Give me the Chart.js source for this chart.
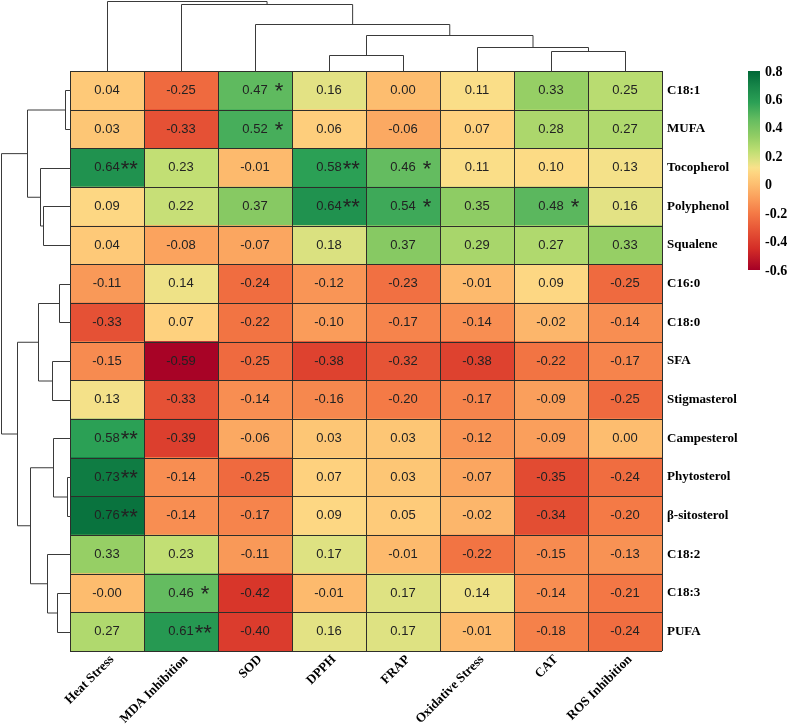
<!DOCTYPE html>
<html>
<head>
<meta charset="utf-8">
<script src="https://cdn.jsdelivr.net/npm/chart.js@4.4.1/dist/chart.umd.min.js"></script>
<style>
  html, body { margin: 0; padding: 0; background: #fff; }
</style>
</head>
<body>
<canvas id="heat" width="787" height="726"></canvas>
<script>
// rows top to bottom, columns left to right (dendrogram order)
var rowLabels = ['C18:1', 'MUFA', 'Tocopherol', 'Polyphenol', 'Squalene', 'C16:0', 'C18:0', 'SFA',
    'Stigmasterol', 'Campesterol', 'Phytosterol', 'β-sitosterol', 'C18:2', 'C18:3', 'PUFA'];
var colLabels = ['Heat Stress', 'MDA Inhibition', 'SOD', 'DPPH', 'FRAP', 'Oxidative Stress', 'CAT', 'ROS Inhibition'];

// correlation coefficients, one array per column
var heatStress      = [0.04, 0.03, 0.64, 0.09, 0.04, -0.11, -0.33, -0.15, 0.13, 0.58, 0.73, 0.76, 0.33, -0.004, 0.27];
var mdaInhibition   = [-0.25, -0.33, 0.23, 0.22, -0.08, 0.14, 0.07, -0.59, -0.33, -0.39, -0.14, -0.14, 0.23, 0.46, 0.61];
var sod             = [0.47, 0.52, -0.01, 0.37, -0.07, -0.24, -0.22, -0.25, -0.14, -0.06, -0.25, -0.17, -0.11, -0.42, -0.40];
var dpph            = [0.16, 0.06, 0.58, 0.64, 0.18, -0.12, -0.10, -0.38, -0.16, 0.03, 0.07, 0.09, 0.17, -0.01, 0.16];
var frap            = [0.00, -0.06, 0.46, 0.54, 0.37, -0.23, -0.17, -0.32, -0.20, 0.03, 0.03, 0.05, -0.01, 0.17, 0.17];
var oxidativeStress = [0.11, 0.07, 0.11, 0.35, 0.29, -0.01, -0.14, -0.38, -0.17, -0.12, -0.07, -0.02, -0.22, 0.14, -0.01];
var cat             = [0.33, 0.28, 0.10, 0.48, 0.27, 0.09, -0.02, -0.22, -0.09, -0.09, -0.35, -0.34, -0.15, -0.14, -0.18];
var rosInhibition   = [0.25, 0.27, 0.13, 0.16, 0.33, -0.25, -0.14, -0.17, -0.25, 0.00, -0.24, -0.20, -0.13, -0.21, -0.24];
var columns = [heatStress, mdaInhibition, sod, dpph, frap, oxidativeStress, cat, rosInhibition];

// significance marks
var sigHeatStress = ['', '', '**', '', '', '', '', '', '', '**', '**', '**', '', '', ''];
var sigMda        = ['', '', '', '', '', '', '', '', '', '', '', '', '', '*', '**'];
var sigSod        = ['*', '*', '', '', '', '', '', '', '', '', '', '', '', '', ''];
var sigDpph       = ['', '', '**', '**', '', '', '', '', '', '', '', '', '', '', ''];
var sigFrap       = ['', '', '*', '*', '', '', '', '', '', '', '', '', '', '', ''];
var sigCat        = ['', '', '', '*', '', '', '', '', '', '', '', '', '', '', ''];
var sigs = [sigHeatStress, sigMda, sigSod, sigDpph, sigFrap, [], sigCat, []];

// clustering (hclust style: negative = leaf, positive = earlier merge)
var rowMerge = [[-11, -12], [-1, -2], [-6, -7], [-14, -15], [-10, 1], [-8, -9], [-13, 4],
    [-4, -5], [-3, 8], [3, 6], [5, 7], [2, 9], [10, 11], [12, 13]];
var rowHeight = [3.3, 5.5, 10.7, 13.3, 17.3, 18.3, 23.3, 26.7, 29.7, 31.7, 40, 43.3, 52.7, 69];
var colMerge = [[-4, -5], [-7, -8], [-6, 2], [1, 3], [-3, 4], [-2, 5], [-1, 6]];
var colHeight = [16, 20.3, 24.3, 36.3, 47.3, 67.3, 70.3];

var legendTicks = [0.8, 0.6, 0.4, 0.2, 0, -0.2, -0.4, -0.6];
var legendMin = -0.6, legendMax = 0.8;

// colour ramp
var colorStops = [
    [-0.60, [165, 0, 38]],
    [-0.45, [212, 45, 39]],
    [-0.30, [233, 90, 56]],
    [-0.20, [244, 122, 70]],
    [-0.10, [250, 156, 90]],
    [0.00, [253, 189, 111]],
    [0.08, [254, 212, 128]],
    [0.12, [249, 225, 138]],
    [0.16, [227, 226, 132]],
    [0.24, [189, 222, 114]],
    [0.34, [146, 205, 100]],
    [0.46, [100, 188, 96]],
    [0.58, [43, 160, 85]],
    [0.70, [22, 132, 72]],
    [0.80, [0, 104, 55]]
];

function cellColor(v) {
    if (v <= colorStops[0][0]) return 'rgb(' + colorStops[0][1].join(',') + ')';
    for (var i = 1; i < colorStops.length; i++) {
        if (v <= colorStops[i][0]) {
            var a = colorStops[i - 1], b = colorStops[i];
            var t = (v - a[0]) / (b[0] - a[0]);
            var c = a[1].map(function (x, k) { return Math.round(x + (b[1][k] - x) * t); });
            return 'rgb(' + c.join(',') + ')';
        }
    }
    return 'rgb(' + colorStops[colorStops.length - 1][1].join(',') + ')';
}

var serif = '"Liberation Serif", "Times New Roman", serif';
var sans = '"Liberation Sans", Arial, sans-serif';

// draws an hclust tree; leafPos(i) gives the pixel of leaf i, hPos(h) the pixel of a height
function drawDendro(ctx, merge, heights, leafPos, hPos, leftSide) {
    var nodes = [];
    function info(id) {
        if (id < 0) return { p: leafPos(-id - 1), h: 0 };
        return nodes[id - 1];
    }
    ctx.beginPath();
    merge.forEach(function (m, i) {
        var a = info(m[0]), b = info(m[1]), h = heights[i];
        var hp = hPos(h);
        if (leftSide) {
            ctx.moveTo(hPos(a.h), a.p); ctx.lineTo(hp, a.p);
            ctx.lineTo(hp, b.p); ctx.lineTo(hPos(b.h), b.p);
        } else {
            ctx.moveTo(a.p, hPos(a.h)); ctx.lineTo(a.p, hp);
            ctx.lineTo(b.p, hp); ctx.lineTo(b.p, hPos(b.h));
        }
        nodes.push({ p: (a.p + b.p) / 2, h: h });
    });
    ctx.stroke();
}

var heatmapExtras = {
    id: 'heatmapExtras',
    afterDatasetsDraw: function (chart) {
        var ctx = chart.ctx, area = chart.chartArea;
        var xs = chart.scales.x, ys = chart.scales.y;
        ctx.save();

        // cell borders
        ctx.strokeStyle = '#2e2e2a';
        ctx.lineWidth = 1;
        ctx.beginPath();
        for (var c = 0; c <= colLabels.length; c++) {
            var px = Math.round(xs.getPixelForValue(c)) + 0.5;
            ctx.moveTo(px, area.top); ctx.lineTo(px, area.bottom);
        }
        for (var r = 0; r <= rowLabels.length; r++) {
            var py = Math.round(ys.getPixelForValue(r - 0.5)) + 0.5;
            ctx.moveTo(area.left, py); ctx.lineTo(area.right, py);
        }
        ctx.stroke();

        // values and stars
        ctx.fillStyle = '#222';
        columns.forEach(function (vals, c) {
            vals.forEach(function (v, r) {
                var cx = xs.getPixelForValue(c + 0.5);
                var cy = ys.getPixelForValue(r);
                var txt = v.toFixed(2);
                ctx.font = '13px ' + sans;
                ctx.textAlign = 'center';
                ctx.textBaseline = 'middle';
                ctx.fillText(txt, cx, cy);
                var s = sigs[c][r];
                if (s) {
                    var w = ctx.measureText(txt).width;
                    ctx.font = '22px ' + sans;
                    ctx.textAlign = 'left';
                    ctx.textBaseline = 'alphabetic';
                    ctx.fillText(s === '*' ? ' *' : '**', cx + w / 2 + 1, cy + 8);
                }
            });
        });
        ctx.restore();
    },
    afterDraw: function (chart) {
        var ctx = chart.ctx, area = chart.chartArea;
        var xc = chart.scales.xc, ys = chart.scales.y;
        ctx.save();
        ctx.strokeStyle = '#3a3a3a';
        ctx.lineWidth = 1;

        var rowMax = rowHeight[rowHeight.length - 1];
        drawDendro(ctx, rowMerge, rowHeight,
            function (i) { return Math.round(ys.getPixelForValue(i)) + 0.5; },
            function (h) { return Math.round(area.left - h / rowMax * (area.left - 1)) + 0.5; },
            true);

        var colMax = colHeight[colHeight.length - 1];
        drawDendro(ctx, colMerge, colHeight,
            function (i) { return Math.round(xc.getPixelForValue(i)) + 0.5; },
            function (h) { return Math.round(area.top - h / colMax * (area.top - 1)) + 0.5; },
            false);

        // colour key
        var barX = 748, barW = 12, barTop = area.top, barBottom = 270;
        var grad = ctx.createLinearGradient(0, barBottom, 0, barTop);
        colorStops.forEach(function (s) {
            grad.addColorStop((s[0] - legendMin) / (legendMax - legendMin), cellColor(s[0]));
        });
        ctx.fillStyle = grad;
        ctx.fillRect(barX, barTop, barW, barBottom - barTop);

        ctx.fillStyle = '#000';
        ctx.font = 'bold 14px ' + serif;
        ctx.textAlign = 'left';
        ctx.textBaseline = 'middle';
        legendTicks.forEach(function (t) {
            var y = barBottom - (t - legendMin) / (legendMax - legendMin) * (barBottom - barTop);
            ctx.fillText(String(t), barX + barW + 5, y + 1);
        });
        ctx.restore();
    }
};

var labelFont = { family: serif, size: 13, weight: 'bold' };

new Chart(document.getElementById('heat'), {
    type: 'bar',
    data: {
        labels: rowLabels,
        datasets: columns.map(function (vals, c) {
            return {
                label: colLabels[c],
                data: vals.map(function () { return [c, c + 1]; }),
                backgroundColor: vals.map(cellColor),
                borderWidth: 0,
                barPercentage: 1,
                categoryPercentage: 1,
                grouped: false
            };
        })
    },
    options: {
        indexAxis: 'y',
        responsive: false,
        animation: false,
        layout: { padding: { left: 70, top: 71, right: 0, bottom: 0 } },
        plugins: { legend: { display: false }, tooltip: { enabled: false } },
        scales: {
            x: { type: 'linear', min: 0, max: 8, display: false },
            xc: {
                type: 'category',
                labels: colLabels,
                position: 'bottom',
                offset: true,
                grid: { display: false, drawTicks: false },
                border: { display: false },
                ticks: { minRotation: 45, maxRotation: 45, padding: 1, labelOffset: 5,
                    color: '#000', font: labelFont },
                afterFit: function (s) { s.height = 75; }
            },
            y: {
                type: 'category',
                position: 'right',
                offset: true,
                grid: { display: false, drawTicks: false },
                border: { display: false },
                ticks: { padding: 5, color: '#000', font: labelFont },
                afterFit: function (s) { s.width = 125; }
            }
        }
    },
    plugins: [heatmapExtras]
});
</script>
</body>
</html>
